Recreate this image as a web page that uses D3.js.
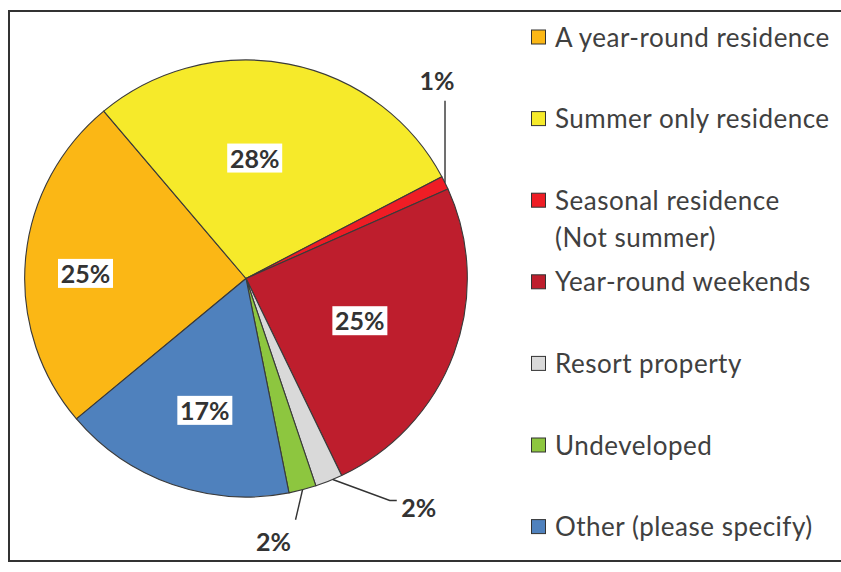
<!DOCTYPE html>
<html>
<head>
<meta charset="utf-8">
<script src="https://cdn.jsdelivr.net/npm/d3@7"></script>
<style>
  html, body { margin: 0; padding: 0; background: #fff; }
  svg { display: block; }
</style>
</head>
<body>
<svg id="chart" width="841" height="572"></svg>
<script>
// ---- data ----
const categories = [
  "A year-round residence",
  "Summer only residence",
  "Seasonal residence (Not summer)",
  "Year-round weekends",
  "Resort property",
  "Undeveloped",
  "Other (please specify)"
];
const legendLines = [
  ["A year-round residence"],
  ["Summer only residence"],
  ["Seasonal residence", "(Not summer)"],
  ["Year-round weekends"],
  ["Resort property"],
  ["Undeveloped"],
  ["Other (please specify)"]
];
const values = [25, 28.4, 1, 24.6, 2, 2, 17];
const colors = ["#FBB715", "#F6EA2A", "#EE1D25", "#BE1E2D", "#D9D9D9", "#8DC63F", "#4F81BD"];

// label layout: inside labels (radius fraction, angle nudge deg) or outside with leader
const labelStyle = ["in", "in", "out", "in", "out", "out", "in"];
const inLabelPos = [[0.735, -3], [0.555, -7], null, [0.555, 0], null, null, [0.63, -2]];

// ---- layout ----
const svg = d3.select("#chart");
const cx = 246, cy = 278.5, R = 218.5;
const startDeg = -130;
const rad = d => d * Math.PI / 180;

svg.append("rect")
  .attr("x", 9).attr("y", 11).attr("width", 900).attr("height", 550)
  .attr("fill", "none").attr("stroke", "#333").attr("stroke-width", 2);

const pie = d3.pie().sort(null).value(d => d)
  .startAngle(rad(startDeg)).endAngle(rad(startDeg + 360));
const arcs = pie(values);
const arc = d3.arc().innerRadius(0).outerRadius(R);

const g = svg.append("g").attr("transform", `translate(${cx},${cy}) scale(1.013,1)`);
g.selectAll("path.slice").data(arcs).enter().append("path")
  .attr("class", "slice")
  .attr("d", arc)
  .attr("fill", (d, i) => colors[i])
  .attr("stroke", "#3a3a3a")
  .attr("stroke-width", 1.1)
  .attr("stroke-linejoin", "round");

const fmt = v => Math.round(v) + "%";
const lblFont = "Lato, 'DejaVu Sans', sans-serif";
const labelG = svg.append("g").attr("transform", `translate(${cx},${cy})`);

// inside labels
arcs.forEach((a, i) => {
  if (labelStyle[i] !== "in") return;
  const [f, nudge] = inLabelPos[i];
  const ang = (a.startAngle + a.endAngle) / 2 + rad(nudge);
  const x = Math.sin(ang) * R * f, y = -Math.cos(ang) * R * f;
  const t = labelG.append("text")
    .attr("x", x).attr("y", y)
    .attr("text-anchor", "middle").attr("dominant-baseline", "central")
    .attr("font-family", lblFont).attr("font-weight", "bold").attr("font-size", 25)
    .attr("fill", "#333").text(fmt(values[i]));
  labelG.insert("rect", () => t.node())
    .attr("x", x - 27.5).attr("y", y - 14).attr("width", 55).attr("height", 29)
    .attr("fill", "#fff");
});

// outside labels with leader lines
const outSpec = {
  2: { frac: 0.5, elbow: [0, -82], tail: [0, 0], text: [-8, -103] },
  4: { frac: 0.35, elbow: [57, 21], tail: [7, 0], text: [86, 27] },
  5: { frac: 0.5, elbow: [-7, 30], tail: [0, 0], text: [-29, 51] }
};
arcs.forEach((a, i) => {
  if (labelStyle[i] !== "out") return;
  const s = outSpec[i];
  const ang = a.startAngle + (a.endAngle - a.startAngle) * s.frac;
  const px = Math.sin(ang) * R * 1.013, py = -Math.cos(ang) * R;
  const ex = px + s.elbow[0], ey = py + s.elbow[1];
  const pts = [[px, py], [ex, ey], [ex + s.tail[0], ey + s.tail[1]]];
  labelG.append("path")
    .attr("d", d3.line()(pts))
    .attr("fill", "none").attr("stroke", "#333").attr("stroke-width", 1.4);
  labelG.append("text")
    .attr("x", px + s.text[0]).attr("y", py + s.text[1])
    .attr("text-anchor", "middle").attr("dominant-baseline", "central")
    .attr("font-family", lblFont).attr("font-weight", "bold").attr("font-size", 25)
    .attr("fill", "#333").text(fmt(values[i]));
});

// legend
const legY0 = 36.5, legStep = 81.6;
const leg = svg.append("g");
categories.forEach((c, i) => {
  const y = legY0 + i * legStep;
  leg.append("rect")
    .attr("x", 531.5).attr("y", y - 6.5).attr("width", 14).attr("height", 14)
    .attr("fill", colors[i]).attr("stroke", "#333").attr("stroke-width", 1);
  legendLines[i].forEach((ln, k) => {
    leg.append("text")
      .attr("x", 555).attr("y", y + k * 37)
      .attr("dominant-baseline", "central")
      .attr("font-family", "Lato, 'Open Sans', sans-serif").attr("font-size", 26)
      .attr("letter-spacing", 0.5)
      .attr("fill", "#404040").text(ln);
  });
});
</script>
</body>
</html>
